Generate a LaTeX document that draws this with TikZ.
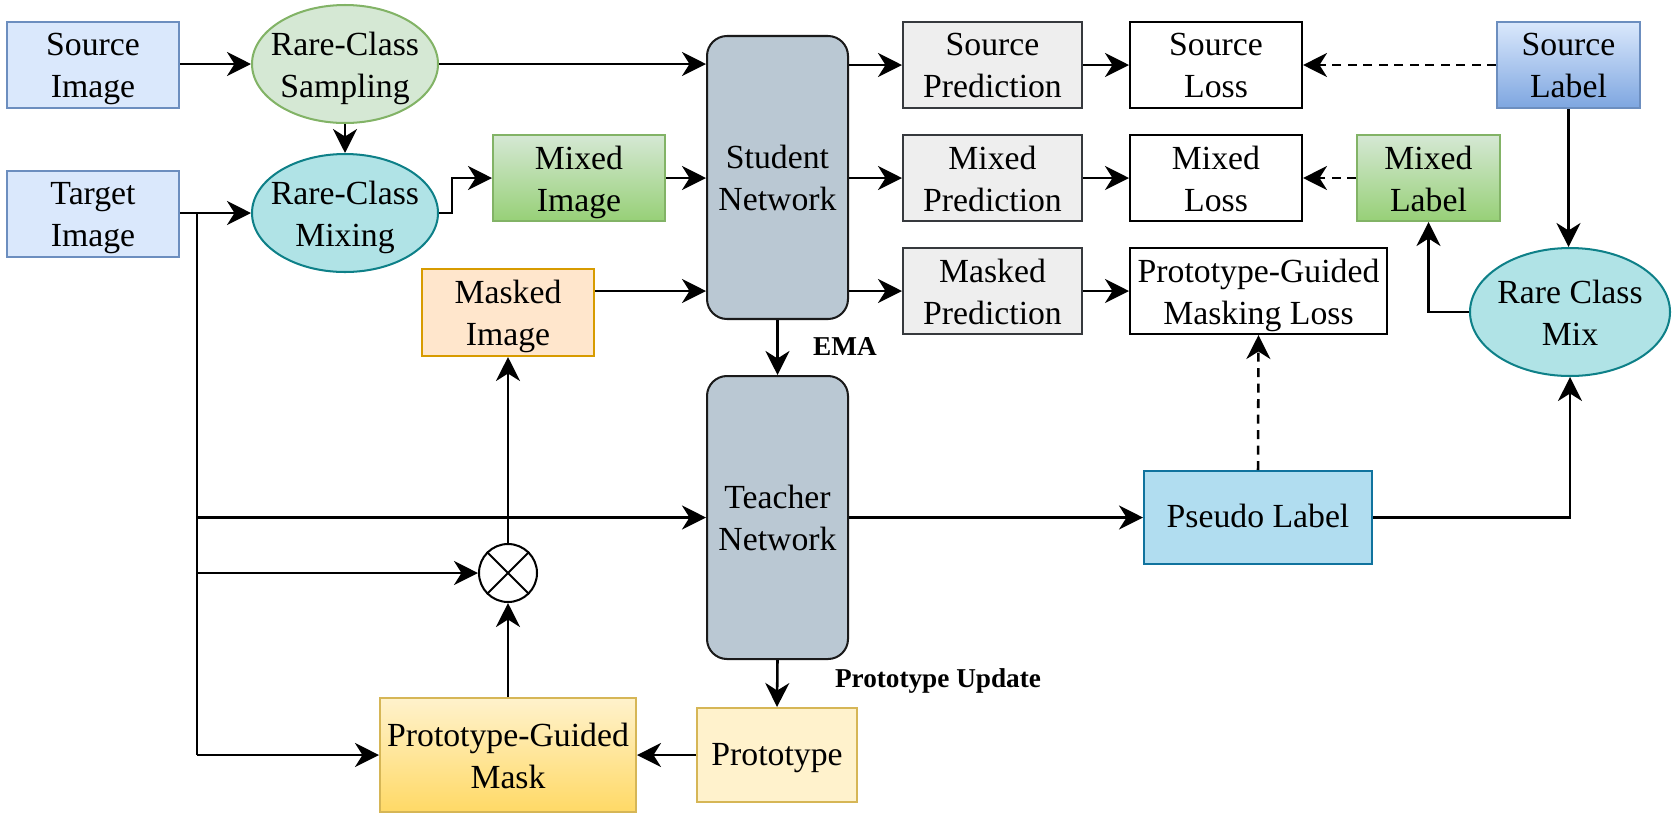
\documentclass[tikz,border=0pt]{standalone}
\usepackage{fontspec}
\setmainfont{Liberation Serif}
\usetikzlibrary{arrows.meta,shapes.geometric,calc}
\newdimen\pxu
\pxu=0.02cm
\definecolor{blueF}{HTML}{DAE8FC}\definecolor{blueS}{HTML}{6C8EBF}
\definecolor{blueG}{HTML}{7EA6E0}
\definecolor{greenF}{HTML}{D5E8D4}\definecolor{greenS}{HTML}{82B366}
\definecolor{greenG}{HTML}{97D077}
\definecolor{tealF}{HTML}{B0E3E6}\definecolor{tealS}{HTML}{0E8088}
\definecolor{orF}{HTML}{FFE6CC}\definecolor{orS}{HTML}{D79B00}
\definecolor{netF}{HTML}{BAC8D3}\definecolor{netS}{HTML}{1A1A1A}
\definecolor{predF}{HTML}{EEEEEE}\definecolor{predS}{HTML}{36393D}
\definecolor{psF}{HTML}{B1DDF0}\definecolor{psS}{HTML}{10739E}
\definecolor{yelF}{HTML}{FFF2CC}\definecolor{yelS}{HTML}{D6B656}
\definecolor{yelG}{HTML}{FFD966}
\tikzset{
  every node/.style={font=\fontsize{19.2}{23.9}\selectfont, align=center, inner sep=0pt},
  one/.style={execute at begin node={\rule{0pt}{18.4pt}}, execute at end node={\rule[-6.5pt]{0pt}{6.5pt}}},
  two/.style={execute at begin node={\rule{0pt}{20pt}}, execute at end node={\rule[-5.8pt]{0pt}{5.8pt}}},
  txt/.style={label={[two, yshift=-0.11cm]center:#1}},
  blk/.style={draw, rectangle, line width=1.15pt},
  oval/.style={draw, ellipse, line width=1.15pt, inner sep=0pt},
  arr/.style={line width=1.45pt, -{Stealth[length=0.48cm, width=0.48cm, inset=0.15cm]}},
  dsh/.style={arr, dash pattern=on 0.18cm off 0.13cm},
  ln/.style={line width=1.45pt},
  lbl/.style={font=\fontsize{15.5}{18}\selectfont\bfseries},
}
\begin{document}
\begin{tikzpicture}[x=0.02cm, y=-0.02cm]
\useasboundingbox (0,0) rectangle (1676,819);
% nodes
\node[blk, fill=blueF, draw=blueS, minimum width=172\pxu, minimum height=86\pxu, txt={Source\\Image}] (srcimg) at (93,65) {};
\node[blk, fill=blueF, draw=blueS, minimum width=172\pxu, minimum height=86\pxu, txt={Target\\Image}] (tgtimg) at (93,214) {};
\node[oval, fill=greenF, draw=greenS, minimum width=186\pxu, minimum height=118\pxu, txt={Rare-Class\\Sampling}] (samp) at (345,64) {};
\node[oval, fill=tealF, draw=tealS, minimum width=186\pxu, minimum height=118\pxu, txt={Rare-Class\\Mixing}] (mix) at (345,213) {};
\node[blk, top color=greenF, bottom color=greenG, draw=greenS, minimum width=172\pxu, minimum height=86\pxu, txt={Mixed\\Image}] (mixedimg) at (579,178) {};
\node[blk, fill=orF, draw=orS, minimum width=172\pxu, minimum height=87\pxu, txt={Masked\\Image}] (maskedimg) at (508,312.5) {};
\node[blk, rounded corners=20\pxu, fill=netF, draw=netS, minimum width=141\pxu, minimum height=283\pxu, txt={Student\\Network}] (student) at (777.5,177.5) {};
\node[blk, rounded corners=20\pxu, fill=netF, draw=netS, minimum width=141\pxu, minimum height=283\pxu, txt={Teacher\\Network}] (teacher) at (777.5,517.5) {};
\node[blk, fill=predF, draw=predS, minimum width=179\pxu, minimum height=86\pxu, txt={Source\\Prediction}] (srcpred) at (992.5,65) {};
\node[blk, fill=predF, draw=predS, minimum width=179\pxu, minimum height=86\pxu, txt={Mixed\\Prediction}] (mixpred) at (992.5,178) {};
\node[blk, fill=predF, draw=predS, minimum width=179\pxu, minimum height=86\pxu, txt={Masked\\Prediction}] (maskpred) at (992.5,291) {};
\node[blk, fill=white, draw=black, minimum width=172\pxu, minimum height=86\pxu, txt={Source\\Loss}] (srcloss) at (1216,65) {};
\node[blk, fill=white, draw=black, minimum width=172\pxu, minimum height=86\pxu, txt={Mixed\\Loss}] (mixloss) at (1216,178) {};
\node[blk, fill=white, draw=black, minimum width=257\pxu, minimum height=86\pxu, txt={Prototype-Guided\\Masking Loss}] (pgloss) at (1258.5,291) {};
\node[blk, top color=blueF, bottom color=blueG, draw=blueS, minimum width=143\pxu, minimum height=86\pxu, txt={Source\\Label}] (srclabel) at (1568.5,65) {};
\node[blk, top color=greenF, bottom color=greenG, draw=greenS, minimum width=143\pxu, minimum height=86\pxu, txt={Mixed\\Label}] (mixlabel) at (1428.5,178) {};
\node[oval, fill=tealF, draw=tealS, minimum width=200\pxu, minimum height=128\pxu, txt={Rare Class\\Mix}] (rcm) at (1570,312) {};
\node[blk, one, fill=psF, draw=psS, minimum width=228\pxu, minimum height=93\pxu] (pseudo) at (1258,517.5) {Pseudo Label};
\node[draw, circle, fill=white, line width=1.15pt, minimum size=58\pxu] (otimes) at (508,573) {};
\draw[line width=1.15pt] (otimes.north west) -- (otimes.south east) (otimes.north east) -- (otimes.south west);
\node[blk, top color=yelF, bottom color=yelG, draw=yelS, minimum width=256\pxu, minimum height=114\pxu, txt={Prototype-Guided\\Mask}] (pgmask) at (508,755) {};
\node[blk, one, fill=yelF, draw=yelS, minimum width=160\pxu, minimum height=94\pxu] (proto) at (777,755) {Prototype};
\node[lbl] (ema) at (845,347) {EMA};
\node[lbl] (pupd) at (938,681) {Prototype Update};
% branch coordinates
\coordinate (br0) at (197,213);
\coordinate (br1) at (197,517.5);
\coordinate (br2) at (197,573);
\coordinate (br3) at (197,755);
\coordinate (mixk1) at (452,213);
\coordinate (mixk2) at (452,178);
% connectors
\draw[arr] (srcimg.east |- samp.west) -- (samp.west);
\draw[arr] (samp.east) -- (samp.east -| student.west);
\draw[arr] (samp.south) -- (mix.north);
\draw[arr] (tgtimg.east |- mix.west) -- (mix.west);
\draw[ln] (br0) -- (br3);
\draw[arr] (br1) -- (teacher.west);
\draw[arr] (br2) -- (otimes.west);
\draw[arr] (br3) -- (pgmask.west);
\draw[arr] (mix.east) -- (mixk1) -- (mixk2) -- (mixedimg.west);
\draw[arr] (mixedimg.east) -- (mixedimg.east -| student.west);
\draw[arr] (maskedimg.east |- maskpred.west) -- (student.west |- maskpred.west);
\draw[arr] (student.east |- srcpred.west) -- (srcpred.west);
\draw[arr] (student.east |- mixpred.west) -- (mixpred.west);
\draw[arr] (student.east |- maskpred.west) -- (maskpred.west);
\draw[arr] (srcpred.east) -- (srcloss.west);
\draw[arr] (mixpred.east) -- (mixloss.west);
\draw[arr] (maskpred.east) -- (pgloss.west);
\draw[dsh] (srclabel.west) -- (srcloss.east);
\draw[dsh] (mixlabel.west) -- (mixloss.east);
\draw[arr] (srclabel.south) -- (srclabel.south |- rcm.north);
\draw[arr] (rcm.west) -| (mixlabel.south);
\draw[dsh] (pseudo.north) -- (pgloss.south);
\draw[arr] (pseudo.east) -| (rcm.south);
\draw[arr] (teacher.east) -- (pseudo.west);
\draw[arr] (student.south) -- (teacher.north);
\draw[arr] (teacher.south) -- (proto.north);
\draw[arr] (proto.west) -- (pgmask.east);
\draw[arr] (pgmask.north) -- (otimes.south);
\draw[arr] (otimes.north) -- (maskedimg.south);
\end{tikzpicture}
\end{document}
